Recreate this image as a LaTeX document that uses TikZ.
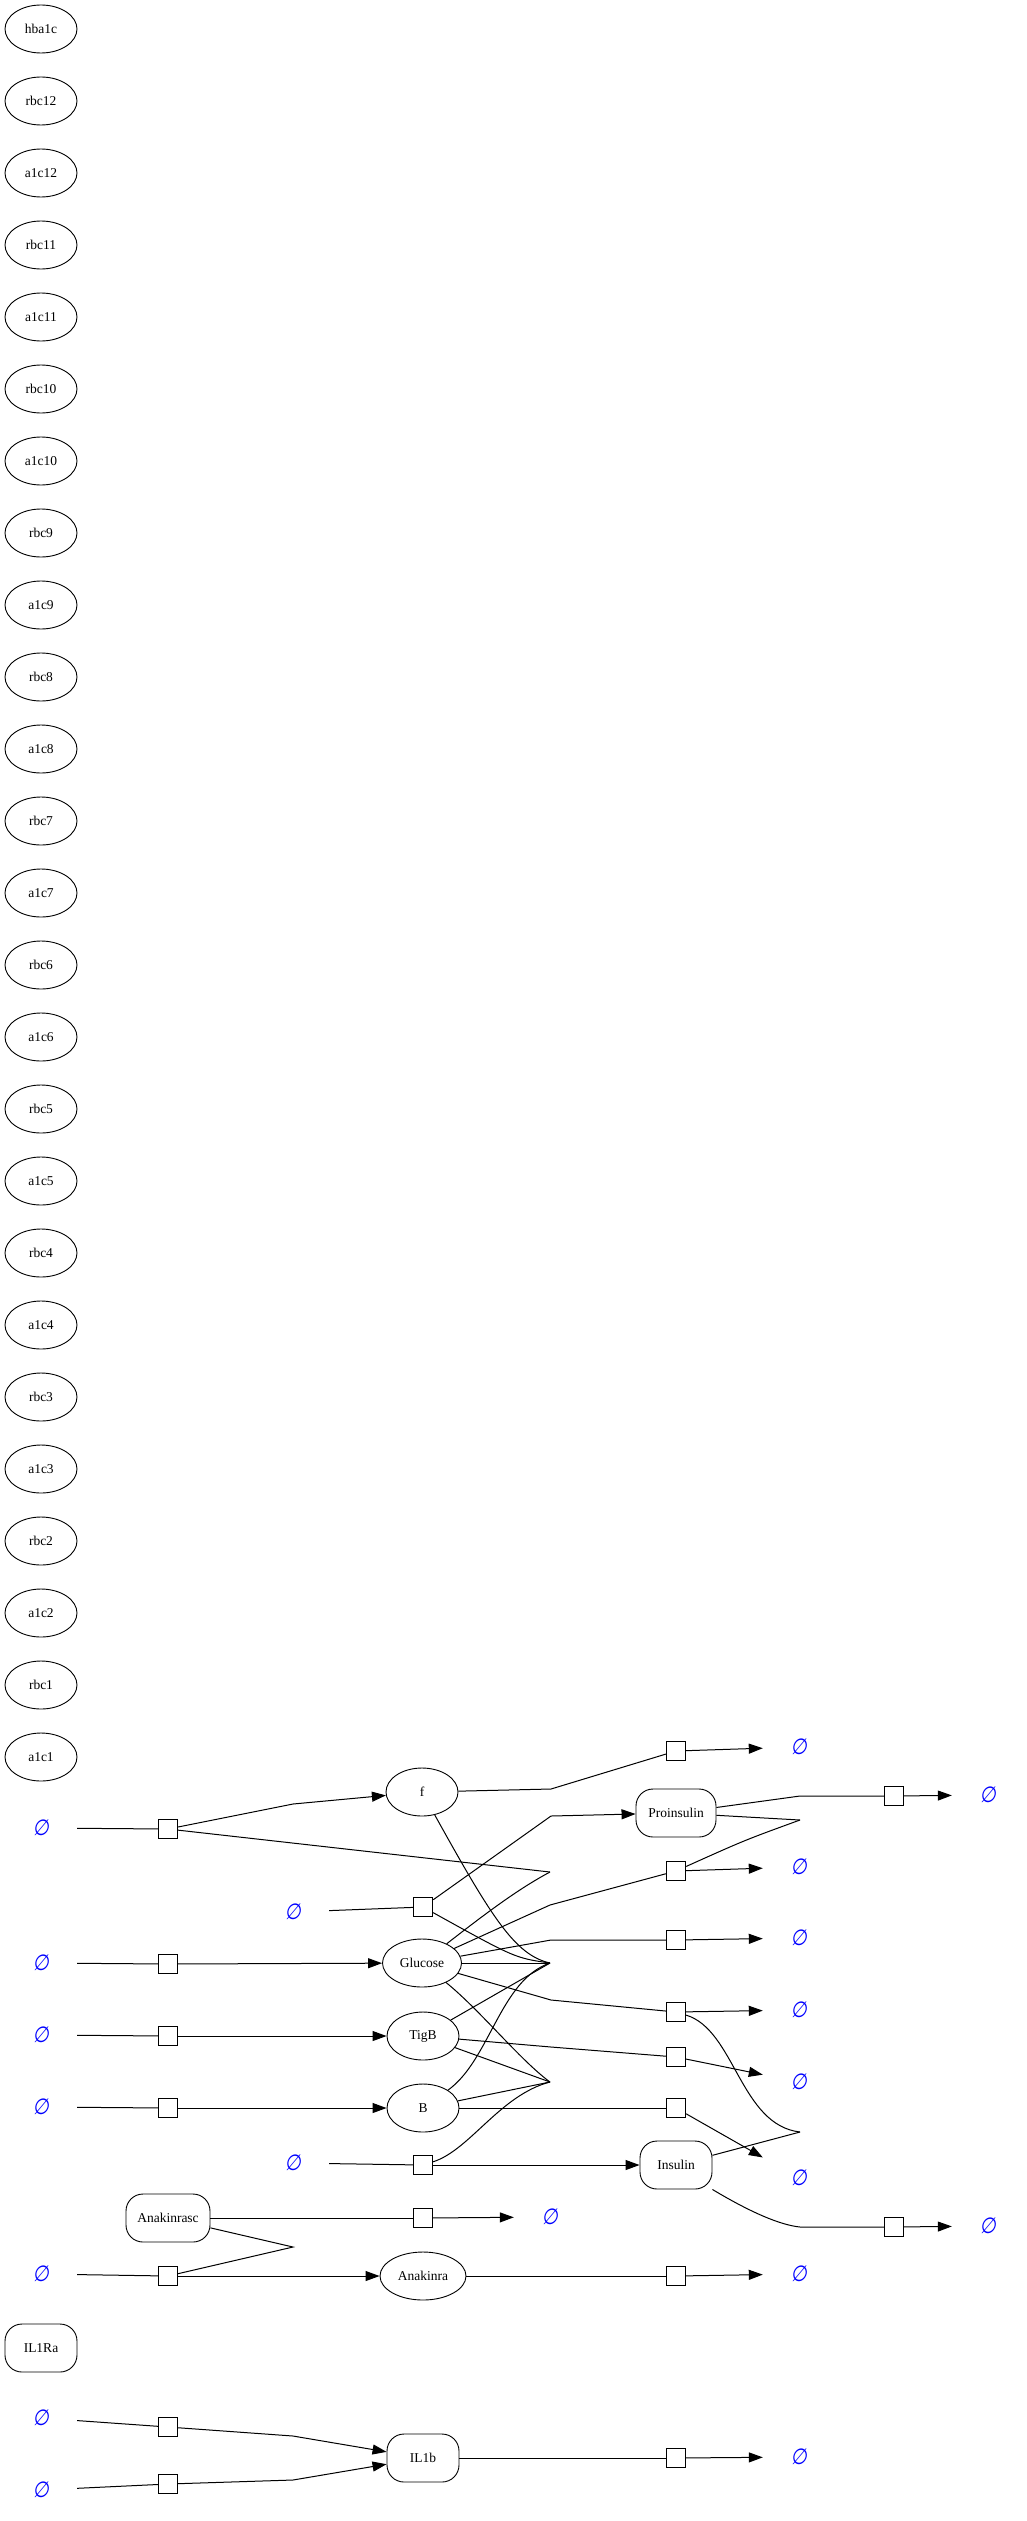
\documentclass[tikz,border=0pt]{standalone}
\usepackage{fontspec}
\setmainfont{Liberation Serif}
\newfontfamily\emptyfnt[FakeSlant=0.15,FakeStretch=0.85]{DejaVu Sans}
\usetikzlibrary{shapes.geometric,arrows.meta}
\begin{document}
\begin{tikzpicture}[x=1pt,y=-1pt,
  sp/.style={draw, ellipse, line width=0.9pt, minimum width=72pt, minimum height=48pt, inner sep=0pt, font=\fontsize{13.5}{16}\selectfont},
  spbox/.style={draw, rectangle, rounded corners=17pt, line width=0.9pt, minimum width=72pt, minimum height=48pt, inner sep=0pt, font=\fontsize{13.5}{16}\selectfont},
  rx/.style={draw, rectangle, line width=1.3pt, minimum size=19pt, inner sep=0pt},
  emp/.style={text=blue, font=\fontsize{22}{24}\emptyfnt, minimum width=72pt, minimum height=48pt, inner sep=0pt},
  ln/.style={line width=1pt},
  arr/.style={line width=1pt, -{Triangle[length=14pt,width=10pt]}}
]
\fill[white] (0,0) rectangle (1027,2521);
\useasboundingbox (0,0) rectangle (1027,2521);

% left column
\foreach \lab [count=\i from 0] in {hba1c,rbc12,a1c12,rbc11,a1c11,rbc10,a1c10,rbc9,a1c9,rbc8,a1c8,rbc7,a1c7,rbc6,a1c6,rbc5,a1c5,rbc4,a1c4,rbc3,a1c3,rbc2,a1c2,rbc1,a1c1}
  \node[sp] (c\i) at (41,{29+72*\i}) {\lab};
\node[spbox] (IL1Ra) at (41,2348) {IL1Ra};

% species
\node[sp] (f) at (422,1792) {f};
\node[sp, minimum width=79pt] (Glucose) at (422,1963) {Glucose};
\node[sp] (TigB) at (423,2036) {TigB};
\node[sp] (B) at (423,2108) {B};
\node[sp, minimum width=86pt] (Anakinra) at (423,2276) {Anakinra};
\node[spbox, minimum width=80pt] (Proinsulin) at (676,1813) {Proinsulin};
\node[spbox] (Insulin) at (676,2165) {Insulin};
\node[spbox, minimum width=84pt] (Anakinrasc) at (168,2218) {Anakinrasc};
\node[spbox] (IL1b) at (423,2458) {IL1b};

% empty sets
\node[emp] (e1) at (41,1828) {∅};
\node[emp] (e2) at (293,1912) {∅};
\node[emp] (e3) at (41,1963) {∅};
\node[emp] (e4) at (41,2035) {∅};
\node[emp] (e5) at (41,2107) {∅};
\node[emp] (e6) at (293,2163) {∅};
\node[emp] (e7) at (41,2274) {∅};
\node[emp] (e8) at (41,2418) {∅};
\node[emp] (e9) at (41,2490) {∅};
\node[emp] (t1) at (799,1747) {∅};
\node[emp] (t2) at (988,1795) {∅};
\node[emp] (t3) at (799,1867) {∅};
\node[emp] (t4) at (799,1938) {∅};
\node[emp] (t5) at (799,2010) {∅};
\node[emp] (t6) at (799,2082) {∅};
\node[emp] (t7) at (799,2178) {∅};
\node[emp] (t8) at (550,2217) {∅};
\node[emp] (t9) at (988,2226) {∅};
\node[emp] (t10) at (799,2274) {∅};
\node[emp] (t11) at (799,2457) {∅};

% reactions
\node[rx] (R1) at (168,1829) {};
\node[rx] (R2) at (423,1907) {};
\node[rx] (R3) at (168,1964) {};
\node[rx] (R4) at (168,2036) {};
\node[rx] (R5) at (168,2108) {};
\node[rx] (R6) at (423,2165) {};
\node[rx] (R7) at (168,2276) {};
\node[rx] (R8) at (168,2427) {};
\node[rx] (R9) at (168,2484) {};
\node[rx] (R10) at (676,1751) {};
\node[rx] (R11) at (894,1796) {};
\node[rx] (R12) at (676,1871) {};
\node[rx] (R13) at (676,1940) {};
\node[rx] (R14) at (676,2012) {};
\node[rx] (R15) at (676,2057) {};
\node[rx] (R16) at (676,2108) {};
\node[rx] (R17) at (423,2218) {};
\node[rx] (R18) at (894,2227) {};
\node[rx] (R19) at (676,2276) {};
\node[rx] (R20) at (676,2458) {};

% junctions and bends
\coordinate (J1) at (550,1872);
\coordinate (J4) at (550,1963);
\coordinate (J6) at (550,2082);
\coordinate (Jp) at (800,1820);
\coordinate (Ji) at (800,2132);
\coordinate (Ja) at (293,2247);
\coordinate (v1) at (293,1804);
\coordinate (v2) at (551,1789);
\coordinate (v3) at (551,1816);
\coordinate (v4) at (800,1796);
\coordinate (v5) at (550,1905);
\coordinate (v6) at (551,1940);
\coordinate (v7) at (551,2000);
\coordinate (v8) at (551,2047);
\coordinate (v9) at (800,2227);
\coordinate (v10) at (293,2436);
\coordinate (v11) at (293,2480);

% edges
\draw[ln] (e1) -- (R1);
\draw[arr] (R1) -- (v1) -- (f);
\draw[ln] (R1) -- (J1);
\draw[ln] (f) -- (v2) -- (R10);
\draw[arr] (R10) -- (t1);
\draw[ln] (f) .. controls (492,1918) and (515,1955) .. (J4);

\draw[ln] (e2) -- (R2);
\draw[arr] (R2) -- (v3) -- (Proinsulin);
\draw[ln] (R2) .. controls (515,1958) .. (J4);

\draw[ln] (Proinsulin) -- (v4) -- (R11);
\draw[arr] (R11) -- (t2);
\draw[ln] (Proinsulin) -- (Jp);
\draw[ln] (R12) .. controls (745,1840) .. (Jp);
\draw[arr] (R12) -- (t3);

\draw[ln] (e3) -- (R3);
\draw[arr] (R3) -- (Glucose);
\draw[ln] (Glucose) .. controls (490,1910) and (520,1888) .. (J1);
\draw[ln] (Glucose) -- (v5) -- (R12);
\draw[ln] (Glucose) -- (v6) -- (R13);
\draw[arr] (R13) -- (t4);
\draw[ln] (Glucose) -- (J4);
\draw[ln] (Glucose) -- (v7) -- (R14);
\draw[arr] (R14) -- (t5);
\draw[ln] (Glucose) .. controls (480,2010) and (520,2060) .. (J6);
\draw[ln] (R14) .. controls (735,2030) and (740,2125) .. (Ji);

\draw[ln] (e4) -- (R4);
\draw[arr] (R4) -- (TigB);
\draw[ln] (TigB) -- (J4);
\draw[ln] (TigB) -- (J6);
\draw[ln] (TigB) -- (v8) -- (R15);
\draw[arr] (R15) -- (t6);

\draw[ln] (e5) -- (R5);
\draw[arr] (R5) -- (B);
\draw[ln] (B) .. controls (490,2060) and (500,1980) .. (J4);
\draw[ln] (B) -- (J6);
\draw[ln] (B) -- (R16);
\draw[arr] (R16) -- (t7);

\draw[ln] (e6) -- (R6);
\draw[arr] (R6) -- (Insulin);
\draw[ln] (R6) .. controls (470,2150) and (500,2095) .. (J6);
\draw[ln] (Insulin) -- (Ji);
\draw[ln] (Insulin.south east) .. controls (750,2212) and (780,2225) .. (v9) -- (R18);
\draw[arr] (R18) -- (t9);

\draw[ln] (Anakinrasc) -- (R17);
\draw[arr] (R17) -- (t8);
\draw[ln] (Anakinrasc) -- (Ja) -- (R7);
\draw[ln] (e7) -- (R7);
\draw[arr] (R7) -- (Anakinra);
\draw[ln] (Anakinra) -- (R19);
\draw[arr] (R19) -- (t10);

\draw[ln] (e8) -- (R8);
\draw[arr] (R8) -- (v10) -- (IL1b);
\draw[ln] (e9) -- (R9);
\draw[arr] (R9) -- (v11) -- (IL1b);
\draw[ln] (IL1b) -- (R20);
\draw[arr] (R20) -- (t11);
\end{tikzpicture}
\end{document}
